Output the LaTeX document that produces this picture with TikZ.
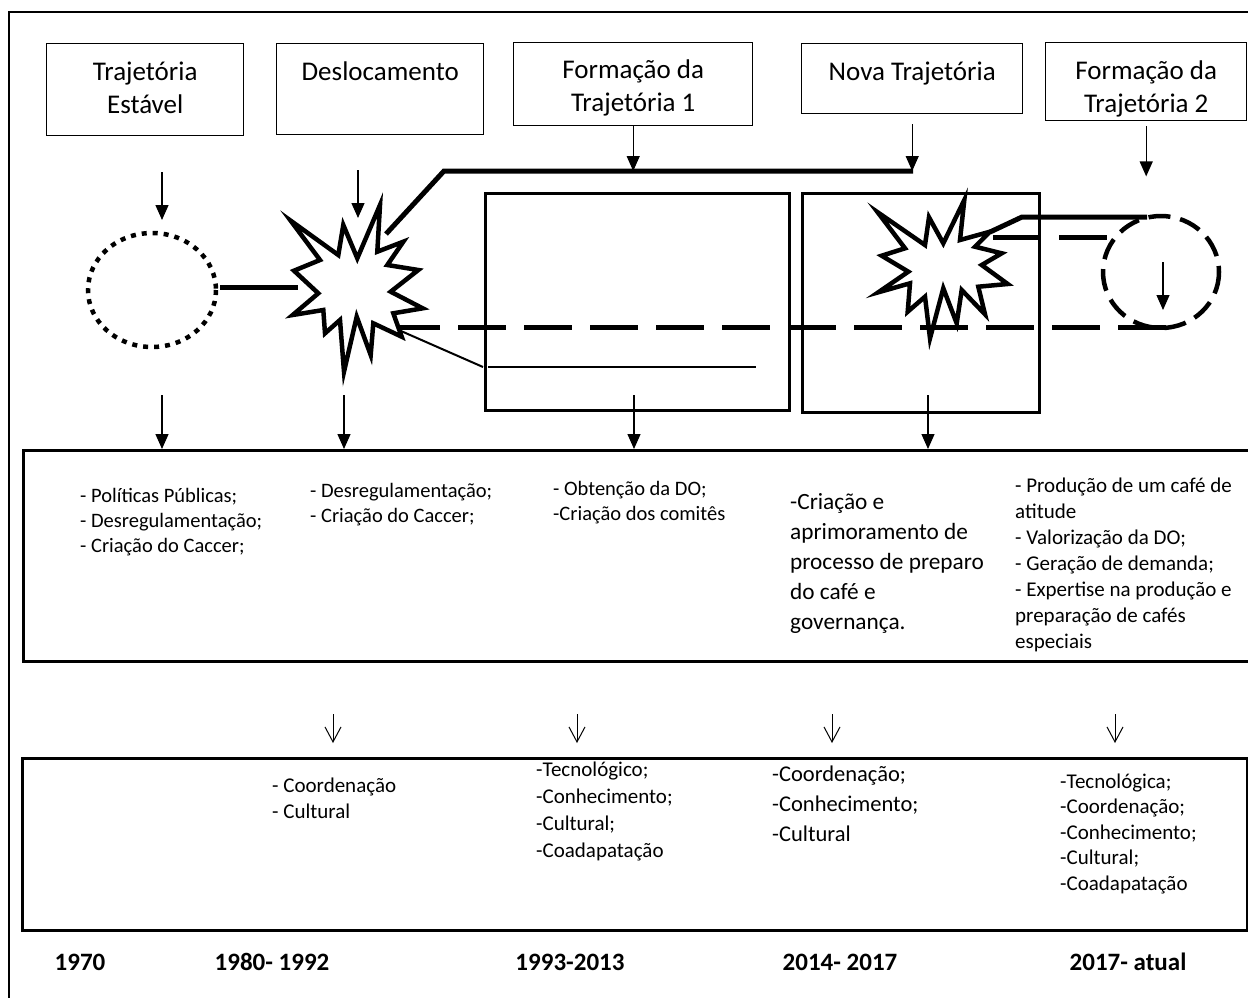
\documentclass[tikz,border=0pt]{standalone}
\usepackage{fontspec}
\setmainfont{Carlito}
\usetikzlibrary{arrows.meta}

\begin{document}
\begin{tikzpicture}[x=1pt, y=-1pt, line join=miter, >={Triangle[length=15pt,width=13pt]},
	every node/.style={inner sep=0pt},
	caixa/.style={draw, line width=1.4pt, anchor=north west},
	quadro/.style={draw, line width=2.6pt, anchor=north west},
	titulo/.style={anchor=north, align=center, font=\fontsize{27}{33}\selectfont},
	texto/.style={anchor=north west, align=left},
	ano/.style={anchor=base, font=\fontsize{25}{30}\selectfont\bfseries},
	fino/.style={line width=1.3pt},
	grosso/.style={line width=5pt},
	tracejado/.style={line width=5pt, dash pattern=on 48pt off 18pt},
	explosao/.style={draw, fill=white, line width=4.5pt},
	seta/.style={-{Straight Barb[length=15pt,width=16pt]}, line width=1pt}]
	\clip (0,0) rectangle (1248,997);
	
	% moldura
	\draw[line width=2.6pt] (9,12) rectangle (1264,1012);
	
	% fases
	\node[caixa, minimum width=197, minimum height=92] (estavel) at (46,43) {};
	\node[caixa, minimum width=207, minimum height=91] (desloc) at (276,43) {};
	\node[caixa, minimum width=239, minimum height=83] (form1) at (513,42) {};
	\node[caixa, minimum width=221, minimum height=70] (nova) at (801,43) {};
	\node[caixa, minimum width=201, minimum height=78] (form2) at (1045,42) {};
	\node[titulo] at ([yshift=-14pt]estavel.north) {\strut Trajetória\\Estável};
	\node[titulo] at ([yshift=-14pt]desloc.north) {\strut Deslocamento};
	\node[titulo] at ([yshift=-13pt]form1.north) {\strut Formação da\\Trajetória 1};
	\node[titulo] at ([yshift=-14pt]nova.north) {\strut Nova Trajetória};
	\node[titulo] at ([yshift=-14pt]form2.north) {\strut Formação da\\Trajetória 2};
	
	% trajetoria estavel
	\coordinate (circ1) at (152,290);
	\draw[line width=4.5pt, dash pattern=on 5pt off 6pt] (circ1) ellipse [x radius=64, y radius=57];
	\coordinate (circ1e) at (220,287);
	\coordinate (exp1w) at (298,287);
	\draw[grosso] (circ1e) -- (exp1w);
	
	% explosoes
	\draw[explosao] (290.7,220.7) -- (338.3,255) -- (343.3,225) -- (357.3,258.3) -- (380,205)
		-- (377.3,251.7) -- (403.3,241.7) -- (387.3,265) -- (418.3,270) -- (390.7,291.7)
		-- (422.7,308.3) -- (393.3,313.3) -- (401.7,336.7) -- (373.3,323.3) -- (370.7,355)
		-- (356.7,316.7) -- (344,371.7) -- (340,320) -- (325,333.3) -- (323.3,310)
		-- (292.7,315) -- (318.3,293.3) -- (294,270.7) -- (320,260) -- cycle;
	\draw[explosao] (877.7,212.3) -- (925,245) -- (929,217.3) -- (943.3,243.3) -- (964.3,200)
		-- (960,240) -- (990,231.7) -- (975,246.7) -- (1001.7,253.3) -- (981.7,265)
		-- (1007.7,284) -- (978.3,286.7) -- (985,314.3) -- (961.7,290) -- (956.7,323.3)
		-- (943.3,288.3) -- (930,338.3) -- (925,296.7) -- (907.7,311.7) -- (910,283.3)
		-- (878.3,292.3) -- (908.3,271.7) -- (881.7,255.7) -- (905,248.3) -- cycle;
	
	% quadros das trajetorias
	\node[draw, line width=2.6pt, minimum width=304, minimum height=217, anchor=north west] (traj1) at (484,192) {};
	\node[draw, line width=2.6pt, minimum width=237, minimum height=219, anchor=north west] (traj2) at (801,192) {};
	
	% caminhos
	\coordinate (exp1ne) at (386,234);
	\coordinate (dobra) at (444,171);
	\coordinate (linha) at (913,171);
	\draw[grosso] (exp1ne) -- (dobra) -- (linha);
	\coordinate (exp1se) at (400,327);
	\coordinate (fimtrac) at (1166,327);
	\draw[tracejado, dash phase=8pt] (exp1se) -- (fimtrac);
	\coordinate (exp1s) at (401,331);
	\draw[line width=2pt] (exp1s) -- (483,367);
	\draw[line width=2pt] (488,367) -- (756,367);
	\coordinate (exp2ne) at (990,232);
	\draw[grosso] (exp2ne) -- (1022,217) -- (1147,217);
	\draw[tracejado] (993,237) -- (1116,237);
	\coordinate (circ2) at (1161,272);
	\draw[line width=4.5pt, dash pattern=on 22pt off 10pt] (circ2) ellipse [x radius=58, y radius=56];
	\draw[fino,->] (1163,262) -- (1163,310);
	
	% setas das fases
	\draw[fino,->] (162,172) -- (162,220);
	\draw[fino,->] (358,170) -- (358,218);
	\draw[fino,->] (form1.south) -- (form1.south |- linha);
	\draw[fino,->] ([yshift=-10pt]nova.south) -- (nova.south |- linha);
	\draw[fino,->] ([yshift=-5pt]form2.south) -- ++(0,50);
	
	% efeitos
	\node[quadro, minimum width=1236, minimum height=211] (efeitos) at (22,449) {};
	\foreach \x in {162,344,634,928}
	\draw[fino,->] (\x,395) -- (\x,449);
	\node[texto, font=\fontsize{20.5}{25}\selectfont] (e1) at (80,484.5) {\strut - Políticas Públicas;\\- Desregulamentação;\\- Criação do Caccer;};
	\node[texto, font=\fontsize{20.5}{25}\selectfont] (e2) at (310,479.5) {\strut - Desregulamentação;\\- Criação do Caccer;};
	\node[texto, font=\fontsize{20.5}{25}\selectfont] (e3) at (553,477.5) {\strut - Obtenção da DO;\\-Criação dos comitês};
	\node[texto, font=\fontsize{23.3}{30}\selectfont] (e4) at (790,488) {\strut -Criação e\\aprimoramento de\\processo de preparo\\do café e\\governança.};
	\node[texto, font=\fontsize{21}{26}\selectfont] (e5) at (1015,474) {\strut - Produção de um café de\\atitude\\- Valorização da DO;\\- Geração de demanda;\\- Expertise na produção e\\preparação de cafés\\especiais};
	
	% capacidades
	\foreach \x in {333,577,832,1115}
	\draw[seta] (\x,714) -- (\x,743);
	\node[quadro, minimum width=1225, minimum height=172] (capac) at (21,757) {};
	\node[texto, font=\fontsize{21}{26}\selectfont] (k1) at (272,774) {\strut - Coordenação\\- Cultural};
	\node[texto, font=\fontsize{21}{27}\selectfont] (k2) at (536,757.5) {\strut -Tecnológico;\\-Conhecimento;\\-Cultural;\\-Coadapatação};
	\node[texto, font=\fontsize{22.5}{30}\selectfont] (k3) at (772,760) {\strut -Coordenação;\\-Conhecimento;\\-Cultural};
	\node[texto, font=\fontsize{21}{25.5}\selectfont] (k4) at (1060,770) {\strut -Tecnológica;\\-Coordenação;\\-Conhecimento;\\-Cultural;\\-Coadapatação};
	
	% periodos
	\node[ano] (p1) at (80,970) {1970};
	\node[ano] (p2) at (272,970) {1980- 1992};
	\node[ano] (p3) at (570,970) {1993-2013};
	\node[ano] (p4) at (840,970) {2014- 2017};
	\node[ano] (p5) at (1128,970) {2017- atual};
\end{tikzpicture}
\end{document}
